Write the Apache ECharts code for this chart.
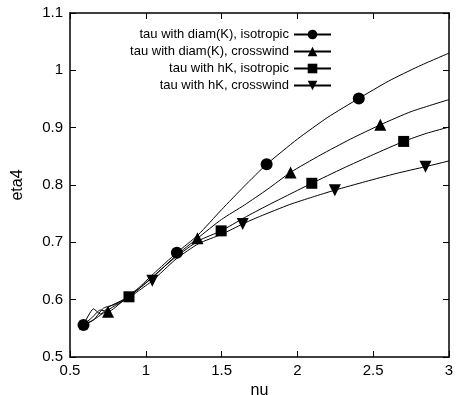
<!DOCTYPE html>
<html>
<head>
<meta charset="utf-8">
<script src="https://cdn.jsdelivr.net/npm/echarts@6/dist/echarts.min.js"></script>
<style>
  html, body { margin: 0; padding: 0; background: #fff; }
  #chart { width: 458px; height: 395px; }
</style>
</head>
<body>
<div id="chart"></div>
<script>
// series names
var names = [
  'tau with diam(K), isotropic',
  'tau with diam(K), crosswind',
  'tau with hK, isotropic',
  'tau with hK, crosswind'
];

// curves: [nu, eta4]
var diamIso = [[0.589,0.556],[0.655,0.584],[0.70,0.575],[0.76,0.588],[0.85,0.600],[0.95,0.620],[1.05,0.645],[1.205,0.682],[1.345,0.713],[1.5,0.757],[1.65,0.798],[1.797,0.836],[2.0,0.880],[2.2,0.918],[2.405,0.951],[2.6,0.981],[2.8,1.007],[3.0,1.030]];
var diamCross = [[0.589,0.556],[0.65,0.570],[0.70,0.582],[0.751,0.579],[0.85,0.598],[0.95,0.618],[1.05,0.640],[1.2,0.677],[1.341,0.707],[1.5,0.740],[1.65,0.765],[1.8,0.792],[1.955,0.822],[2.15,0.852],[2.35,0.880],[2.547,0.905],[2.75,0.928],[3.0,0.949]];
var hkIso = [[0.589,0.556],[0.66,0.566],[0.72,0.585],[0.80,0.592],[0.889,0.605],[0.95,0.618],[1.05,0.641],[1.2,0.675],[1.35,0.703],[1.497,0.720],[1.65,0.743],[1.8,0.764],[1.95,0.784],[2.095,0.803],[2.3,0.829],[2.5,0.853],[2.701,0.876],[2.85,0.890],[3.0,0.901]];
var hkCross = [[0.589,0.556],[0.64,0.562],[0.70,0.573],[0.80,0.590],[0.889,0.603],[0.95,0.615],[1.043,0.633],[1.2,0.671],[1.35,0.698],[1.5,0.714],[1.639,0.732],[1.75,0.745],[1.95,0.766],[2.1,0.779],[2.247,0.791],[2.45,0.806],[2.65,0.820],[2.845,0.832],[3.0,0.842]];

// nu values where a marker is drawn on each curve
var diamIsoMarks = [0.589, 1.205, 1.797, 2.405];
var diamCrossMarks = [0.751, 1.341, 1.955, 2.547];
var hkIsoMarks = [0.889, 1.497, 2.095, 2.701];
var hkCrossMarks = [1.043, 1.639, 2.247, 2.845];

var xTicks = [0.5, 1, 1.5, 2, 2.5, 3];
var yTicks = [0.5, 0.6, 0.7, 0.8, 0.9, 1, 1.1];

var font = 'Liberation Sans, Arial, Helvetica, sans-serif';

function withMarks(points, marks) {
  return points.map(function (p) {
    if (marks.indexOf(p[0]) >= 0) return { value: p };
    return { value: p, symbol: 'none' };
  });
}

function makeSeries(name, points, marks, symbol, rotate) {
  return {
    name: name,
    type: 'line',
    data: withMarks(points, marks),
    smooth: 0.2,
    symbol: symbol,
    symbolSize: symbol === 'rect' ? 11 : 12,
    symbolRotate: rotate,
    showAllSymbol: true,
    lineStyle: { color: '#000', width: 1 },
    itemStyle: { color: '#000' },
    emphasis: { disabled: true },
    animation: false
  };
}

var myChart = echarts.init(document.getElementById('chart'));

var axisCommon = {
  type: 'value',
  splitLine: { show: false },
  axisLine: { show: true, onZero: false, lineStyle: { color: '#000', width: 1.5 } },
  axisTick: { show: true, inside: true, length: 6, lineStyle: { color: '#000', width: 1 } }
};

var option = {
  animation: false,
  grid: { left: 70, right: 9, top: 13, bottom: 38, containLabel: false, outerBoundsMode: 'none' },
  legend: {
    orient: 'vertical',
    right: 126,
    top: 28,
    padding: 0,
    align: 'right',
    itemWidth: 37,
    itemHeight: 12,
    itemGap: 4,
    textStyle: { fontFamily: font, fontSize: 13, lineHeight: 12, color: '#000' },
    data: names
  },
  xAxis: [
    Object.assign({}, axisCommon, {
      min: xTicks[0], max: xTicks[xTicks.length - 1], interval: 0.5,
      position: 'bottom',
      name: 'nu',
      nameLocation: 'middle',
      nameGap: 25,
      nameTextStyle: { fontFamily: font, fontSize: 16, color: '#000' },
      axisLabel: { fontFamily: font, fontSize: 15, color: '#000', margin: 6 }
    }),
    Object.assign({}, axisCommon, {
      min: xTicks[0], max: xTicks[xTicks.length - 1], interval: 0.5,
      position: 'top',
      axisLabel: { show: false }
    })
  ],
  yAxis: [
    Object.assign({}, axisCommon, {
      min: yTicks[0], max: yTicks[yTicks.length - 1], interval: 0.1,
      position: 'left',
      name: 'eta4',
      nameLocation: 'middle',
      nameGap: 44,
      nameRotate: 90,
      nameTextStyle: { fontFamily: font, fontSize: 16, color: '#000' },
      axisLabel: { fontFamily: font, fontSize: 15, color: '#000', margin: 7 }
    }),
    Object.assign({}, axisCommon, {
      min: yTicks[0], max: yTicks[yTicks.length - 1], interval: 0.1,
      position: 'right',
      axisLabel: { show: false }
    })
  ],
  series: [
    makeSeries(names[0], diamIso, diamIsoMarks, 'circle', 0),
    makeSeries(names[1], diamCross, diamCrossMarks, 'triangle', 0),
    makeSeries(names[2], hkIso, hkIsoMarks, 'rect', 0),
    makeSeries(names[3], hkCross, hkCrossMarks, 'triangle', 180)
  ]
};

myChart.setOption(option);
window.addEventListener('resize', function () {
  myChart.resize();
});
</script>
</body>
</html>
